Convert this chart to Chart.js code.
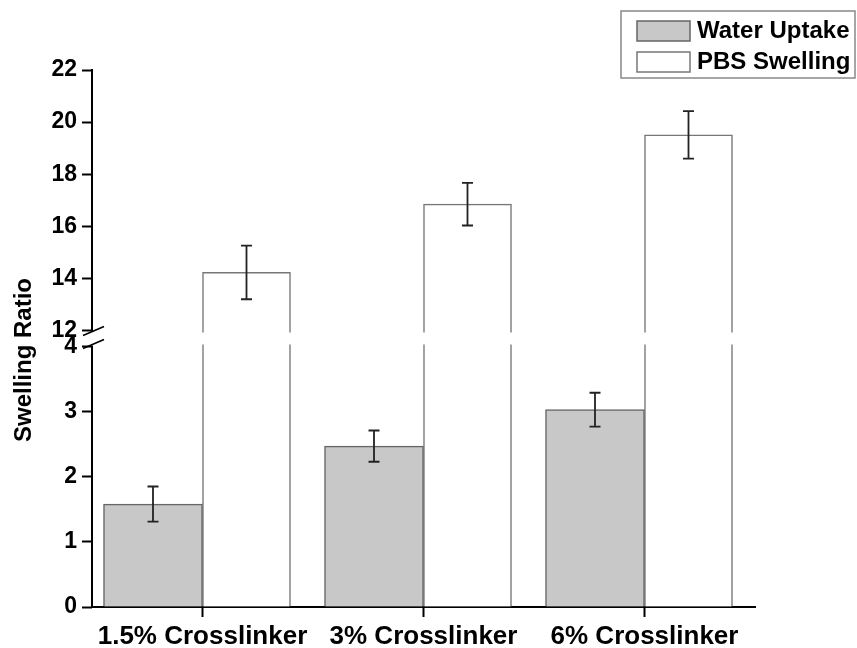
<!DOCTYPE html>
<html>
<head>
<meta charset="utf-8">
<script src="https://cdn.jsdelivr.net/npm/chart.js@4"></script>
<style>
  html, body { margin: 0; padding: 0; background: #fff; }
  #wrap { width: 857px; height: 648px; }
</style>
</head>
<body>
<div id="wrap"><canvas id="c" width="857" height="648"></canvas></div>
<script>
// Crosslinker concentrations
const categories = ['1.5% Crosslinker', '3% Crosslinker', '6% Crosslinker'];
// Mean swelling ratios and their error (± half-range)
const waterUptake = [1.58, 2.47, 3.03];
const waterUptakeErr = [0.27, 0.24, 0.26];
const pbsSwelling = [14.23, 16.85, 19.51];
const pbsSwellingErr = [1.03, 0.82, 0.91];
// Broken value axis: 0–4 below the break, 12–22 above it
const yTickValues = [0, 1, 2, 3, 4, 12, 14, 16, 18, 20, 22];
const yMin = 0, yMax = 22, breakFrom = 4, breakTo = 12;
const BREAK_GAP = 16;

const FONT = "'Liberation Sans', Arial, sans-serif";

// Linear scale with a gap: the lower and upper ranges each get half of the axis height
class BrokenLinearScale extends Chart.LinearScale {
  buildTicks() {
    this.start = yMin;
    this.end = yMax;
    return yTickValues.map(v => ({ value: v }));
  }
  _segLen() {
    return (this.bottom - this.top - BREAK_GAP) / 2;
  }
  getPixelForValue(v) {
    if (v === null || v === undefined) return NaN;
    const seg = this._segLen();
    if (v <= breakFrom) return this.bottom - (v - yMin) / (breakFrom - yMin) * seg;
    if (v >= breakTo) return this.top + (yMax - v) / (yMax - breakTo) * seg;
    return this.bottom - seg - (v - breakFrom) / (breakTo - breakFrom) * BREAK_GAP;
  }
  getValueForPixel(p) {
    const seg = this._segLen();
    if (p >= this.bottom - seg) return yMin + (this.bottom - p) / seg * (breakFrom - yMin);
    if (p <= this.top + seg) return yMax - (p - this.top) / seg * (yMax - breakTo);
    return breakFrom + (this.bottom - seg - p) / BREAK_GAP * (breakTo - breakFrom);
  }
}
BrokenLinearScale.id = 'brokenLinear';
BrokenLinearScale.defaults = Chart.LinearScale.defaults;
Chart.register(BrokenLinearScale);

// Hides the bar outlines inside the break, draws the broken axis line, break marks and error bars
const breakAndErrors = {
  id: 'breakAndErrors',
  afterDatasetsDraw(chart) {
    const { ctx, chartArea } = chart;
    const y = chart.scales.y;
    const yHi = y.getPixelForValue(breakTo);
    const yLo = y.getPixelForValue(breakFrom);
    ctx.save();
    ctx.fillStyle = '#fff';
    ctx.fillRect(chartArea.left + 1, yHi + 2, chartArea.right - chartArea.left, yLo - yHi - 4);

    // error bars
    ctx.strokeStyle = '#222';
    ctx.lineWidth = 1.8;
    chart.data.datasets.forEach((ds, di) => {
      const meta = chart.getDatasetMeta(di);
      meta.data.forEach((bar, i) => {
        const v = ds.data[i], e = ds.errors[i];
        const top = y.getPixelForValue(v + e);
        const bot = y.getPixelForValue(v - e);
        const cap = 5.5;
        ctx.beginPath();
        ctx.moveTo(bar.x, top); ctx.lineTo(bar.x, bot);
        ctx.moveTo(bar.x - cap, top); ctx.lineTo(bar.x + cap, top);
        ctx.moveTo(bar.x - cap, bot); ctx.lineTo(bar.x + cap, bot);
        ctx.stroke();
      });
    });

    // broken y axis line
    const x0 = chartArea.left;
    ctx.strokeStyle = '#000';
    ctx.lineWidth = 2;
    ctx.beginPath();
    ctx.moveTo(x0, chartArea.top - 1); ctx.lineTo(x0, yHi + 1);
    ctx.moveTo(x0, yLo - 1); ctx.lineTo(x0, chartArea.bottom + 1);
    ctx.stroke();
    // break marks
    ctx.lineWidth = 1.6;
    ctx.beginPath();
    ctx.moveTo(x0 - 9, yHi + 5); ctx.lineTo(x0 + 12, yHi - 4);
    ctx.moveTo(x0 - 9, yLo + 2); ctx.lineTo(x0 + 12, yLo - 7);
    ctx.stroke();
    ctx.restore();
  },
  afterDraw(chart) {
    const { ctx, chartArea } = chart;
    ctx.save();
    // axis title
    ctx.fillStyle = '#000';
    ctx.font = `bold 24px ${FONT}`;
    ctx.textAlign = 'center';
    ctx.textBaseline = 'middle';
    ctx.translate(24, chartArea.top + (chartArea.bottom - chartArea.top) * 0.54);
    ctx.rotate(-Math.PI / 2);
    ctx.fillText('Swelling Ratio', 0, 0);
    ctx.restore();

    // framed legend in the top-right corner
    ctx.save();
    const right = chart.width - 2;
    const bx = right - 234, by = 11, bw = 234, bh = 67;
    ctx.strokeStyle = '#888';
    ctx.lineWidth = 1.5;
    ctx.strokeRect(bx, by, bw, bh);
    chart.data.datasets.forEach((ds, i) => {
      const sy = by + 10 + i * 31;
      ctx.fillStyle = ds.backgroundColor;
      ctx.fillRect(bx + 16, sy, 53, 20);
      ctx.strokeStyle = ds.borderColor;
      ctx.lineWidth = 1.5;
      ctx.strokeRect(bx + 16, sy, 53, 20);
      ctx.fillStyle = '#000';
      ctx.font = `bold 24px ${FONT}`;
      ctx.textAlign = 'left';
      ctx.textBaseline = 'middle';
      ctx.fillText(ds.label, bx + 76, sy + 10.5);
    });
    ctx.restore();
  }
};

new Chart(document.getElementById('c'), {
  type: 'bar',
  data: {
    labels: categories,
    datasets: [
      {
        label: 'Water Uptake',
        data: waterUptake,
        errors: waterUptakeErr,
        backgroundColor: '#c8c8c8',
        borderColor: '#666',
        borderWidth: 1.5,
        barThickness: 99
      },
      {
        label: 'PBS Swelling',
        data: pbsSwelling,
        errors: pbsSwellingErr,
        backgroundColor: '#ffffff',
        borderColor: '#777',
        borderWidth: 1.5,
        barThickness: 88
      }
    ]
  },
  options: {
    responsive: false,
    animation: false,
    layout: { padding: { left: 0, right: 102, top: 70, bottom: 0 } },
    plugins: { legend: { display: false }, tooltip: { enabled: false } },
    scales: {
      x: {
        type: 'category',
        offset: true,
        grid: { offset: false, drawOnChartArea: false, drawTicks: true, tickLength: 10, tickWidth: 2, tickColor: '#000' },
        border: { display: true, color: '#000', width: 2 },
        ticks: { color: '#000', font: { family: FONT, size: 26, weight: 'bold' }, padding: 4, maxRotation: 0, autoSkip: false },
        afterFit: s => { s.height = 41; }
      },
      y: {
        type: 'brokenLinear',
        min: yMin,
        max: yMax,
        grid: { drawOnChartArea: false, drawTicks: true, tickLength: 10, tickWidth: 2, tickColor: '#000' },
        border: { display: false },
        ticks: { color: '#000', font: { family: FONT, size: 23, weight: 'bold' }, padding: 5, autoSkip: false, callback: v => String(v) },
        afterFit: s => { s.width = 92; }
      }
    }
  },
  plugins: [breakAndErrors]
});
</script>
</body>
</html>
